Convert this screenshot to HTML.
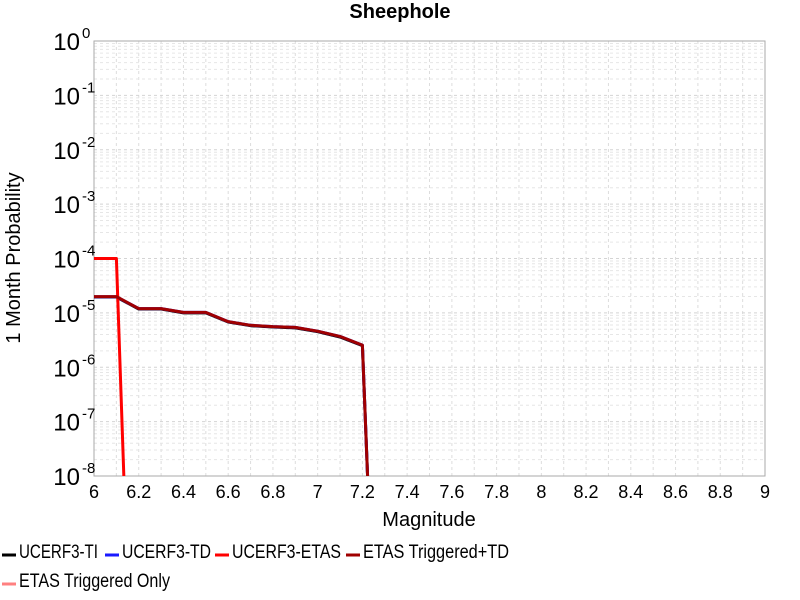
<!DOCTYPE html>
<html><head><meta charset="utf-8"><style>
html,body{margin:0;background:#fff;overflow:hidden;width:800px;height:600px;}
svg{display:block;font-family:"Liberation Sans",sans-serif;}
</style></head><body>
<svg id="chart" width="800" height="600">
<text x="400" y="18" text-anchor="middle" font-size="20" font-weight="bold">Sheephole</text>
<g id="grid"></g>
<rect x="94" y="41" width="671" height="435" fill="none" stroke="#aaa"/>
<g id="yticks"></g><g id="xticks"></g>
<defs><clipPath id="clip"><rect x="94" y="41" width="671" height="435"/></clipPath></defs>
<g id="series" clip-path="url(#clip)"></g>
<text x="429" y="526" text-anchor="middle" font-size="20">Magnitude</text>
<text transform="translate(20,258) rotate(-90)" text-anchor="middle" font-size="20">1 Month Probability</text>
<g id="legend"></g>
</svg>
<script>
const mags=[6.0,6.1,6.2,6.3,6.4,6.5,6.6,6.7,6.8,6.9,7.0,7.1,7.2,7.3];
const tiVals=[1.96e-5,1.96e-5,1.18e-5,1.18e-5,1.0e-5,1.0e-5,6.8e-6,5.8e-6,5.5e-6,5.3e-6,4.5e-6,3.6e-6,2.5e-6,1e-16];
const tdVals=[1.98e-5,1.98e-5,1.2e-5,1.2e-5,1.02e-5,1.02e-5,6.9e-6,5.9e-6,5.6e-6,5.4e-6,4.6e-6,3.7e-6,2.55e-6,1e-16];
const etasVals=[1.0e-4,1.0e-4,1e-16,1e-16,1e-16,1e-16,1e-16,1e-16,1e-16,1e-16,1e-16,1e-16,1e-16,1e-16];
const trigTdVals=[1.99e-5,1.99e-5,1.2e-5,1.2e-5,1.02e-5,1.02e-5,6.9e-6,5.9e-6,5.6e-6,5.4e-6,4.6e-6,3.7e-6,2.55e-6,1e-16];
const trigOnlyVals=[1e-16,1e-16,1e-16,1e-16,1e-16,1e-16,1e-16,1e-16,1e-16,1e-16,1e-16,1e-16,1e-16,1e-16];
const xTicks=[6,6.2,6.4,6.6,6.8,7,7.2,7.4,7.6,7.8,8,8.2,8.4,8.6,8.8,9];
const yExps=[0,-1,-2,-3,-4,-5,-6,-7,-8];
const legendLabels=["UCERF3-TI","UCERF3-TD","UCERF3-ETAS","ETAS Triggered+TD","ETAS Triggered Only"];
const NS="http://www.w3.org/2000/svg";
const L=94,R=765,T=41,B=476;
function xS(v){return L+(v-6)/3*(R-L);}
function yS(v){return T+(-Math.log10(v))/8*(B-T);}
function mk(tag,attrs,parent){const e=document.createElementNS(NS,tag);for(const k in attrs)e.setAttribute(k,attrs[k]);parent.appendChild(e);return e;}
const grid=document.getElementById('grid');
for(let x=6;x<=9.001;x+=0.1){const px=xS(x);
 const l=mk('line',{x1:px,x2:px,y1:T,y2:B,stroke:'#ddd','stroke-dasharray':'3,3','stroke-width':1},grid);
 
 }
for(let e=-8;e<0;e++){for(let m=1;m<10;m++){const py=yS(m*Math.pow(10,e));
 const l=mk('line',{x1:L,x2:R,y1:py,y2:py,stroke:m==1?'#d4d4d4':'#e6e6e6','stroke-dasharray':'3,3','stroke-width':1},grid);
 
 }}
const yt=document.getElementById('yticks');
yExps.forEach(e=>{const py=yS(Math.pow(10,e));
 const t=mk('text',{x:80,y:py+9,'text-anchor':'end','font-size':24},yt);
 
 
 t.textContent='10';
 const s=mk('text',{x:82,y:py-3,'font-size':15},yt);
 
 
 s.textContent=String(e);});
const xt=document.getElementById('xticks');
xTicks.forEach(v=>{const t=mk('text',{x:xS(v),y:498,'text-anchor':'middle','font-size':18},xt);
 
 
 t.textContent=String(v);});
const sg=document.getElementById('series');
const series=[[tiVals,'#000','series-ucerf3-ti'],[tdVals,'#1a1aff','series-ucerf3-td'],[etasVals,'#ff0000','series-ucerf3-etas'],[trigTdVals,'#a00000','series-etas-triggered-td'],[trigOnlyVals,'#ff8080','series-etas-triggered-only']];
series.forEach(([vals,c,n])=>{const pts=mags.map((m,i)=>xS(m).toFixed(1)+','+yS(vals[i]).toFixed(1)).join(' ');
 const p=mk('polyline',{points:pts,fill:'none',stroke:c,'stroke-width':3,'stroke-linejoin':'round'},sg);
 
 });
const lg=document.getElementById('legend');
const lpos=[[2,552],[105,552],[215,552],[346,552],[2,581]];
const lwid=[79,89,109,146,151];
const lcol=['#000','#1a1aff','#ff0000','#a00000','#ff8080'];
legendLabels.forEach((lab,i)=>{const [x,y]=lpos[i];
 const g=mk('g',{},lg);
 
 
 mk('line',{x1:x,x2:x+14,y1:y+3,y2:y+3,stroke:lcol[i],'stroke-width':3},g);
 const t=mk('text',{x:x+17,y:y+6,'font-size':19,textLength:lwid[i],lengthAdjust:'spacingAndGlyphs'},g);
 t.textContent=lab;});
</script>
</body></html>
